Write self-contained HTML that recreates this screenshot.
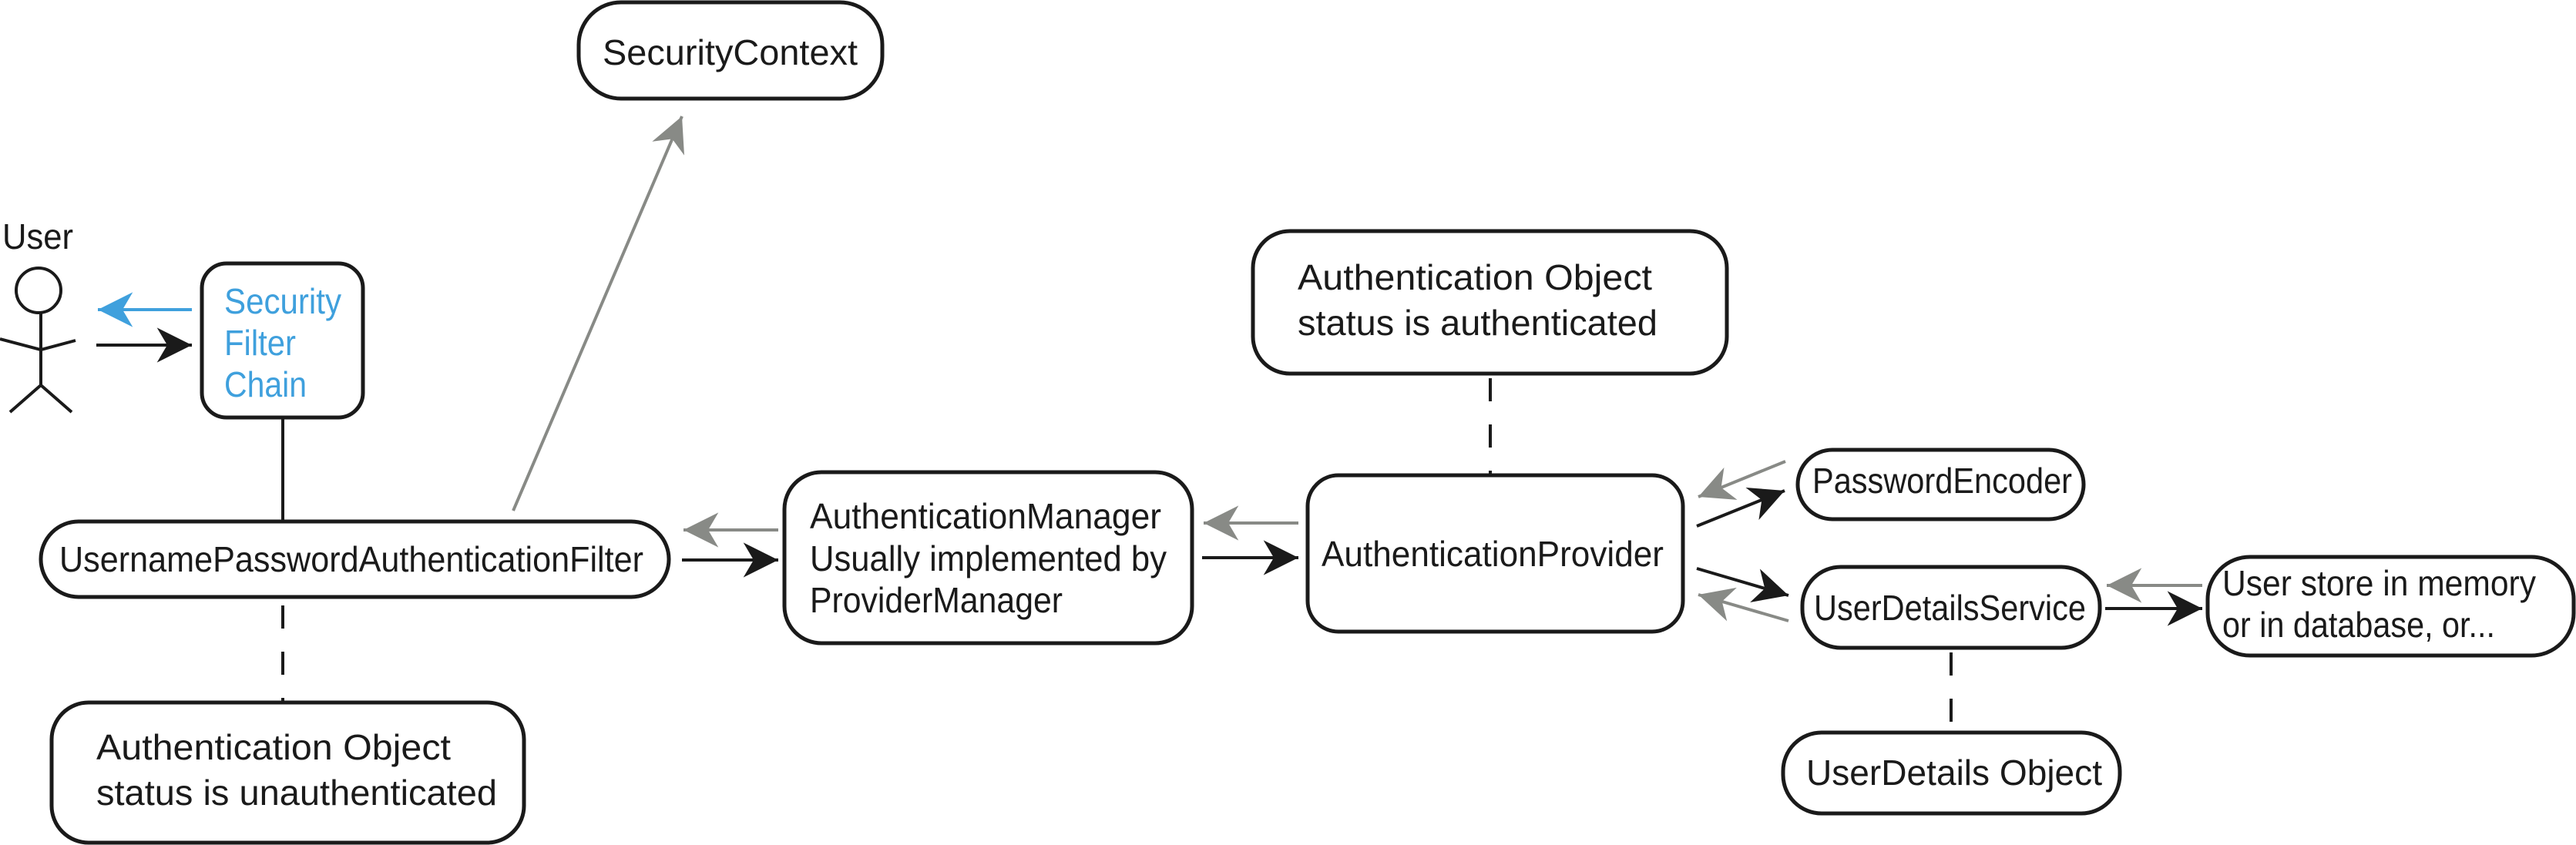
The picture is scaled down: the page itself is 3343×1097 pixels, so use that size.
<!DOCTYPE html>
<html><head><meta charset="utf-8"><style>
html,body{margin:0;padding:0;background:#fff;}
svg{display:block;}
text{font-family:"Liberation Sans",sans-serif;font-size:46px;fill:#1a1a1a;}
</style></head><body>
<svg width="3343" height="1097" viewBox="0 0 3343 1097" xmlns="http://www.w3.org/2000/svg">
<defs>
<marker id="ab" markerUnits="userSpaceOnUse" markerWidth="60" markerHeight="60" viewBox="-40 -20 45 40" refX="0" refY="0" orient="auto"><path d="M0,0 L-34,-17 L-24,0 L-34,17 Z" fill="#1a1a1a"/></marker>
<marker id="ag" markerUnits="userSpaceOnUse" markerWidth="60" markerHeight="60" viewBox="-40 -20 45 40" refX="0" refY="0" orient="auto"><path d="M0,0 L-34,-17 L-24,0 L-34,17 Z" fill="#888a86"/></marker>
<marker id="al" markerUnits="userSpaceOnUse" markerWidth="60" markerHeight="60" viewBox="-40 -20 45 40" refX="0" refY="0" orient="auto"><path d="M0,0 L-34,-17 L-24,0 L-34,17 Z" fill="#3fa0dd"/></marker>
</defs>
<g fill="none" stroke="#1a1a1a" stroke-width="5">
<rect x="751" y="3" width="394" height="125" rx="55"/>
<rect x="262" y="342" width="209" height="200" rx="32"/>
<rect x="53" y="677" width="815" height="98" rx="49"/>
<rect x="67" y="912" width="613" height="182" rx="48"/>
<rect x="1018" y="613" width="529" height="222" rx="48"/>
<rect x="1626" y="300" width="615" height="185" rx="48"/>
<rect x="1697" y="617" width="487" height="203" rx="40"/>
<rect x="2333" y="584" width="371" height="90" rx="45"/>
<rect x="2339" y="736" width="386" height="105" rx="50"/>
<rect x="2865" y="723" width="475" height="128" rx="55"/>
<rect x="2314" y="951" width="437" height="105" rx="50"/>
</g>
<g fill="none" stroke="#1a1a1a" stroke-width="4">
<circle cx="50" cy="377" r="29"/>
<line x1="53" y1="406" x2="53" y2="500"/>
<polyline points="0,440 53,454 98,442"/>
<polyline points="13,535 53,500 93,535"/>
</g>
<g fill="none" stroke-width="4">
<line x1="249" y1="402" x2="127" y2="402" stroke="#3fa0dd" marker-end="url(#al)"/>
<line x1="125" y1="448" x2="249" y2="448" stroke="#1a1a1a" marker-end="url(#ab)"/>
<line x1="367" y1="542" x2="367" y2="677" stroke="#1a1a1a"/>
<line x1="367" y1="778" x2="367" y2="910" stroke="#1a1a1a" stroke-dasharray="30,30" stroke-dashoffset="-8"/>
<line x1="666" y1="663" x2="885" y2="151" stroke="#888a86" marker-end="url(#ag)"/>
<line x1="1010" y1="688" x2="887" y2="688" stroke="#888a86" marker-end="url(#ag)"/>
<line x1="885" y1="727" x2="1010" y2="727" stroke="#1a1a1a" marker-end="url(#ab)"/>
<line x1="1685" y1="679" x2="1562" y2="679" stroke="#888a86" marker-end="url(#ag)"/>
<line x1="1560" y1="724" x2="1685" y2="724" stroke="#1a1a1a" marker-end="url(#ab)"/>
<line x1="1934" y1="487" x2="1934" y2="617" stroke="#1a1a1a" stroke-dasharray="30,30" stroke-dashoffset="-4"/>
<line x1="2317" y1="599" x2="2204" y2="645" stroke="#888a86" marker-end="url(#ag)"/>
<line x1="2202" y1="683" x2="2316" y2="637" stroke="#1a1a1a" marker-end="url(#ab)"/>
<line x1="2202" y1="738" x2="2321" y2="773" stroke="#1a1a1a" marker-end="url(#ab)"/>
<line x1="2321" y1="806" x2="2204" y2="772" stroke="#888a86" marker-end="url(#ag)"/>
<line x1="2858" y1="760" x2="2734" y2="760" stroke="#888a86" marker-end="url(#ag)"/>
<line x1="2732" y1="790" x2="2858" y2="790" stroke="#1a1a1a" marker-end="url(#ab)"/>
<line x1="2532" y1="843" x2="2532" y2="951" stroke="#1a1a1a" stroke-dasharray="30,30" stroke-dashoffset="-4"/>
</g>
<g>
<text x="3" y="323" textLength="92" lengthAdjust="spacingAndGlyphs">User</text>
<text x="291" y="407" textLength="152" lengthAdjust="spacingAndGlyphs" style="fill:#3fa0dd">Security</text>
<text x="291" y="461" textLength="93" lengthAdjust="spacingAndGlyphs" style="fill:#3fa0dd">Filter</text>
<text x="291" y="515" textLength="107" lengthAdjust="spacingAndGlyphs" style="fill:#3fa0dd">Chain</text>
<text x="782" y="84" textLength="331" lengthAdjust="spacingAndGlyphs">SecurityContext</text>
<text x="77" y="742" textLength="758" lengthAdjust="spacingAndGlyphs">UsernamePasswordAuthenticationFilter</text>
<text x="125" y="986" textLength="460" lengthAdjust="spacingAndGlyphs">Authentication Object</text>
<text x="125" y="1045" textLength="520" lengthAdjust="spacingAndGlyphs">status is unauthenticated</text>
<text x="1051" y="686" textLength="456" lengthAdjust="spacingAndGlyphs">AuthenticationManager</text>
<text x="1051" y="741" textLength="463" lengthAdjust="spacingAndGlyphs">Usually implemented by</text>
<text x="1051" y="795" textLength="328" lengthAdjust="spacingAndGlyphs">ProviderManager</text>
<text x="1684" y="376" textLength="460" lengthAdjust="spacingAndGlyphs">Authentication Object</text>
<text x="1684" y="435" textLength="467" lengthAdjust="spacingAndGlyphs">status is authenticated</text>
<text x="1715" y="735" textLength="444" lengthAdjust="spacingAndGlyphs">AuthenticationProvider</text>
<text x="2352" y="640" textLength="337" lengthAdjust="spacingAndGlyphs">PasswordEncoder</text>
<text x="2354" y="805" textLength="353" lengthAdjust="spacingAndGlyphs">UserDetailsService</text>
<text x="2884" y="773" textLength="407" lengthAdjust="spacingAndGlyphs">User store in memory</text>
<text x="2884" y="827" textLength="354" lengthAdjust="spacingAndGlyphs">or in database, or...</text>
<text x="2344" y="1019" textLength="384" lengthAdjust="spacingAndGlyphs">UserDetails Object</text>
</g>
</svg>
</body></html>
